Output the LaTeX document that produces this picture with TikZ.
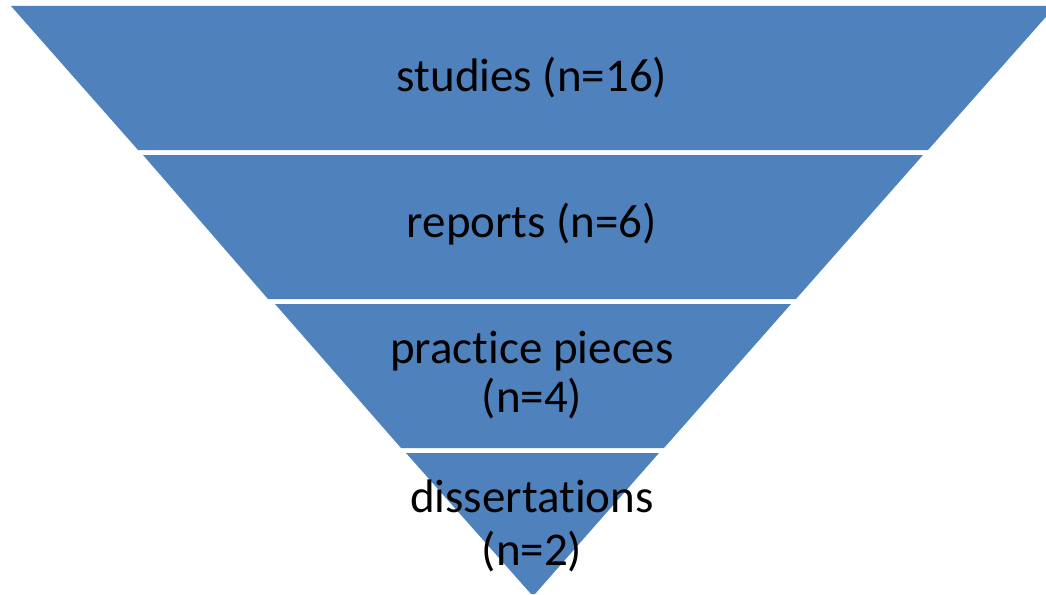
\documentclass[tikz,border=0pt]{standalone}
\usepackage{fontspec}
\setmainfont{Carlito}[Ligatures=NoCommon]
\definecolor{funnelblue}{HTML}{4F81BD}
\begin{document}
\begin{tikzpicture}[x=1pt,y=-1pt,
  band/.style={fill=funnelblue,draw=none},
  lbl/.style={font=\fontsize{47}{56}\selectfont,text=black,align=center,inner sep=0pt}]
\path[use as bounding box] (0,0) rectangle (1046,594);
\fill[band] (11,6) -- (1046,6) -- (1046,16.8) -- (928,150) -- (138,150) -- cycle;
\fill[band] (143,155) -- (923,155) -- (796,299) -- (268,299) -- cycle;
\fill[band] (275,304) -- (791,304) -- (664,448) -- (401,448) -- cycle;
\fill[band] (406,453) -- (659,453) -- (535,594) -- (531,594) -- cycle;
\node[lbl,anchor=base] (b1) at (532,92) {studies (n=16)};
\node[lbl,anchor=base] (b2) at (532,237) {reports (n=6)};
\node[lbl,anchor=base] (b3a) at (532,363) {practice pieces};
\node[lbl,anchor=base] (b3b) at (532,412) {(n=4)};
\node[lbl,anchor=base] (b4a) at (532,512) {dissertations};
\node[lbl,anchor=base] (b4b) at (532,565) {(n=2)};
\end{tikzpicture}
\end{document}
